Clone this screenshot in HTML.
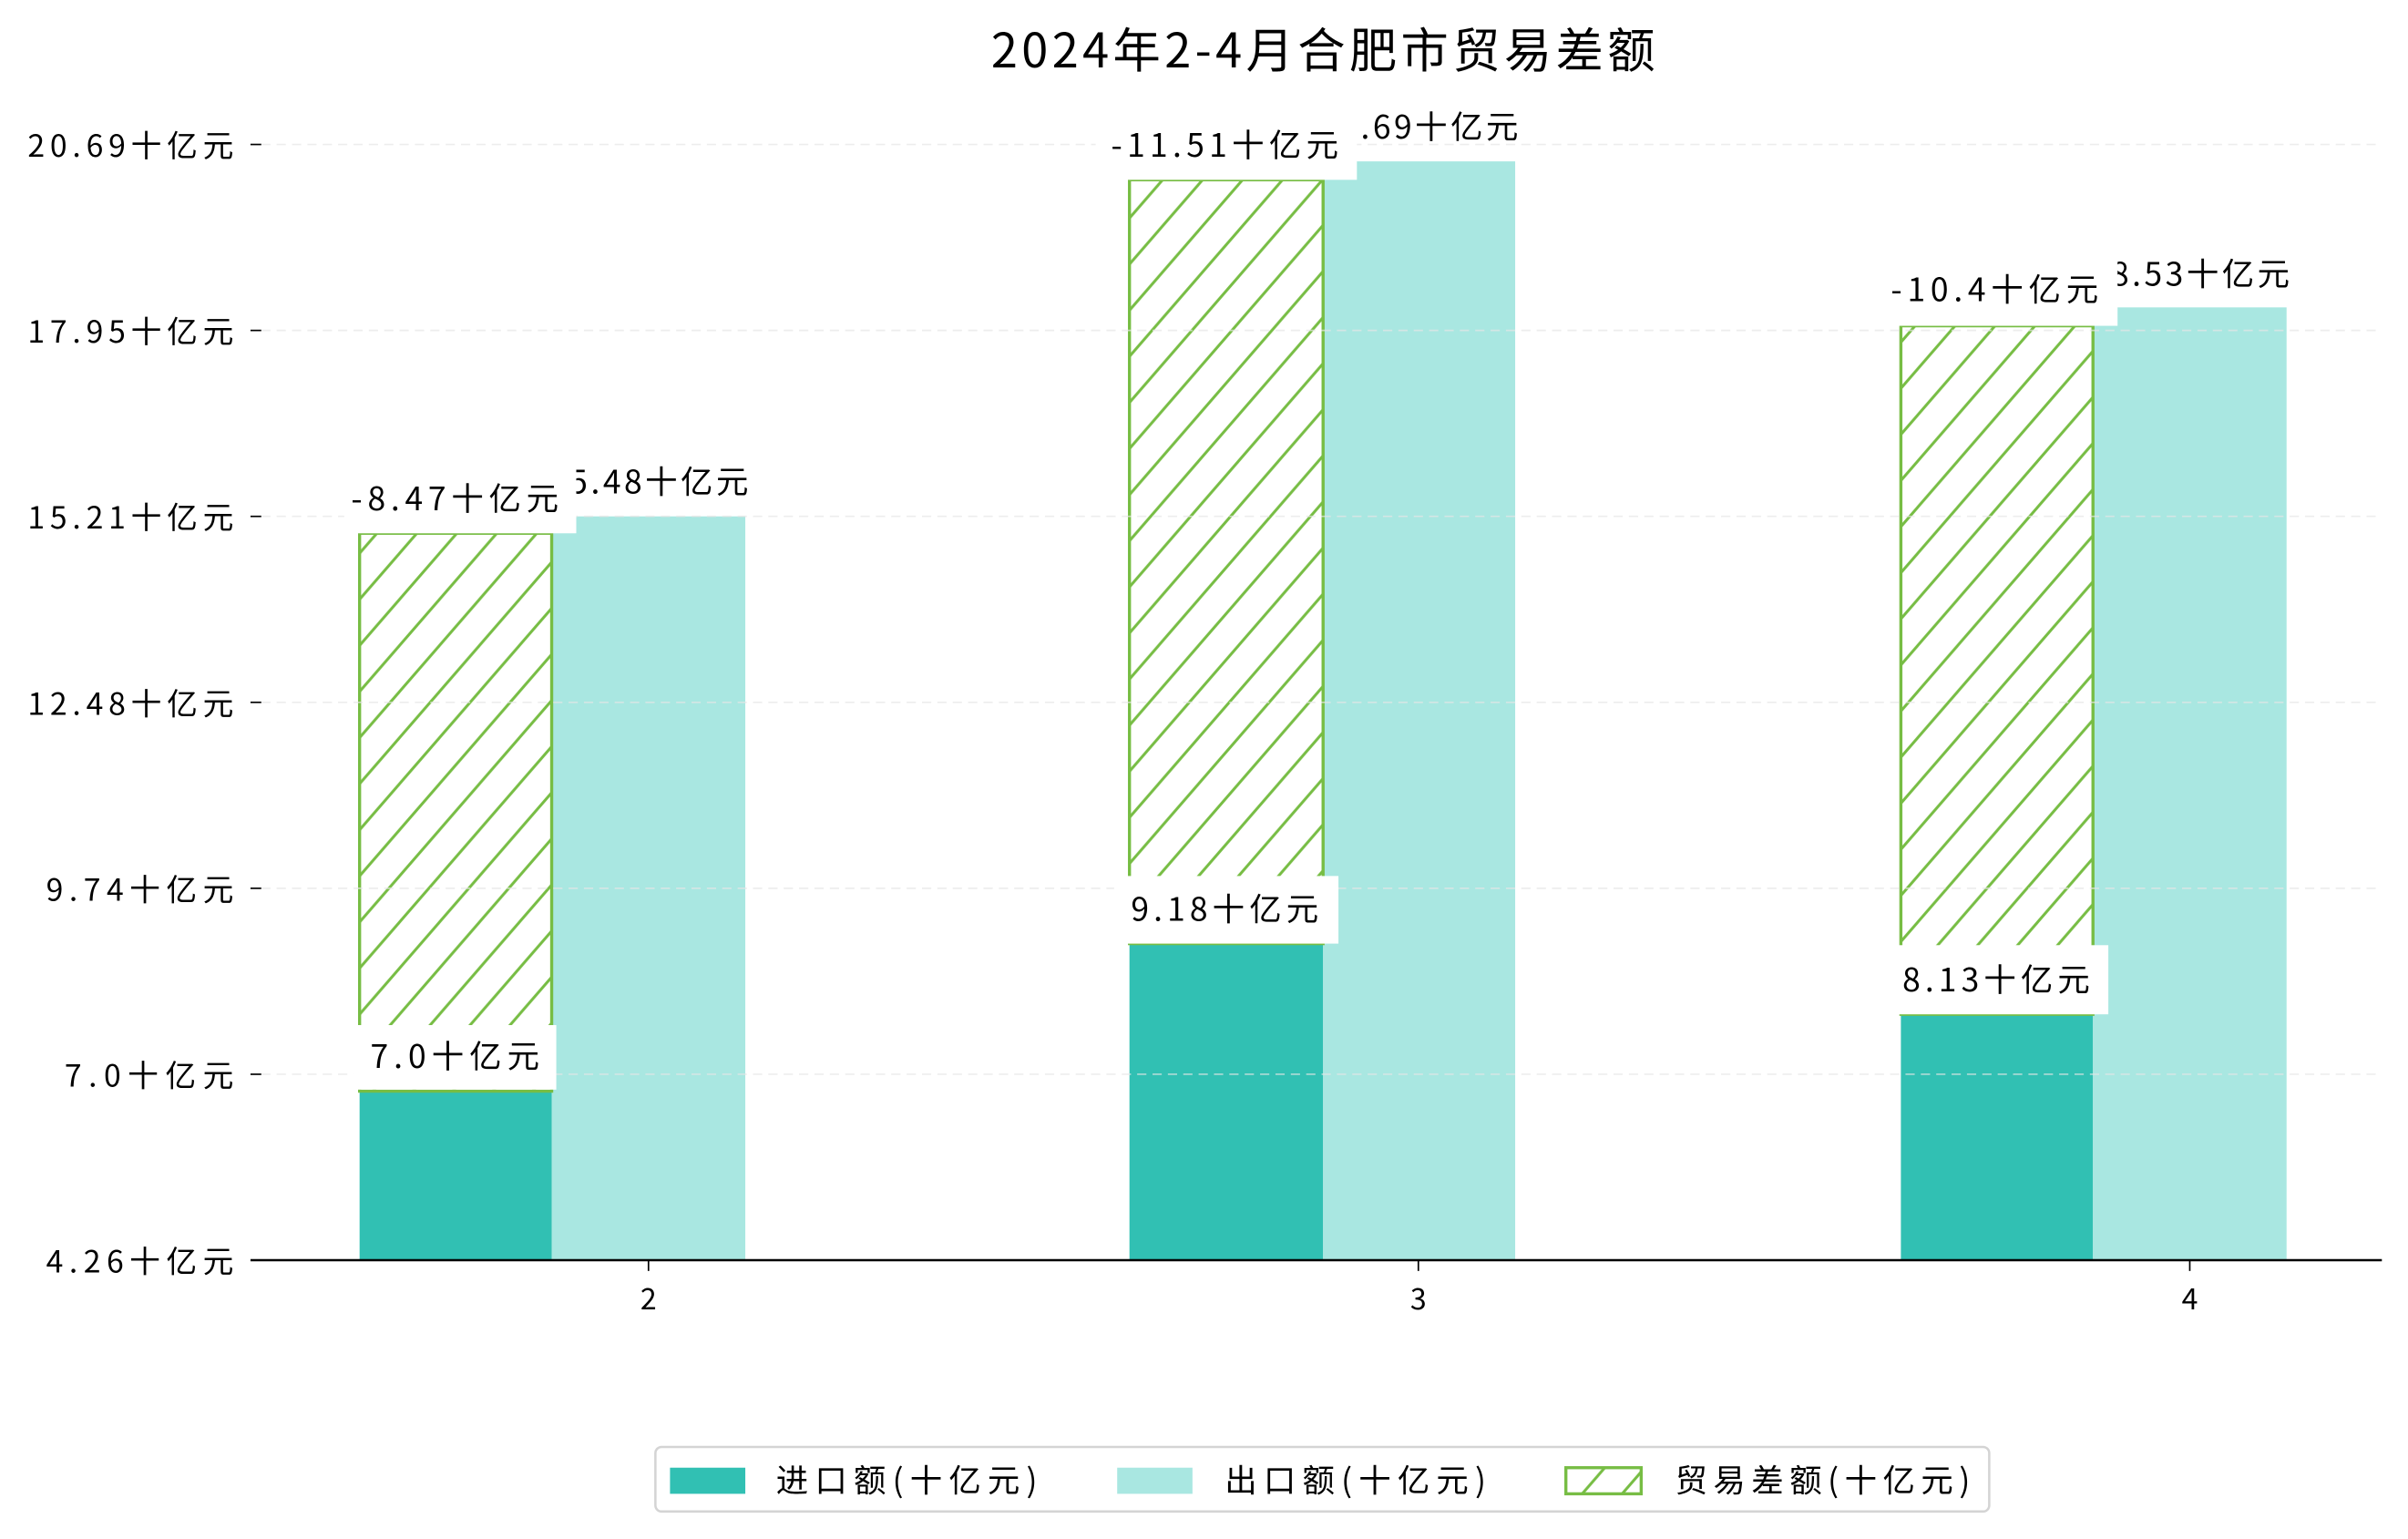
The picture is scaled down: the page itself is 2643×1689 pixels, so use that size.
<!DOCTYPE html>
<html><head><meta charset="utf-8"><style>
html,body{margin:0;padding:0;background:#fff;}
svg{display:block;}
text{font-family:"WenQuanYi Zen Hei","Noto Sans CJK SC",sans-serif;fill:#000;}
</style></head><body>
<svg width="2643" height="1689" viewBox="0 0 1567 1001.4" xmlns="http://www.w3.org/2000/svg">
<defs>
<pattern id="h" patternUnits="userSpaceOnUse" width="26" height="30">
<rect width="26" height="30" fill="#fff"/>
<line x1="-26" y1="60" x2="52" y2="-30" stroke="#77bd44" stroke-width="1.8"/>
<line x1="-52" y1="60" x2="26" y2="-30" stroke="#77bd44" stroke-width="1.8"/>
<line x1="0" y1="60" x2="78" y2="-30" stroke="#77bd44" stroke-width="1.8"/>
</pattern>
</defs>
<text x="861" y="44" font-size="31" text-anchor="middle" textLength="432">2024年2-4月合肥市贸易差额</text>

<!-- bars -->
<rect x="234" y="710" width="125" height="110" fill="#31c0b3"/>
<rect x="359" y="336" width="126" height="484" fill="#a9e7e1"/>
<rect x="234" y="347" width="125" height="363" fill="url(#h)" stroke="#77bd44" stroke-width="2"/>
<rect x="735" y="614" width="126" height="206" fill="#31c0b3"/>
<rect x="861" y="105" width="125" height="715" fill="#a9e7e1"/>
<rect x="735" y="117" width="126" height="497" fill="url(#h)" stroke="#77bd44" stroke-width="2"/>
<rect x="1237" y="660" width="125" height="160" fill="#31c0b3"/>
<rect x="1362" y="200" width="126" height="620" fill="#a9e7e1"/>
<rect x="1237" y="212" width="125" height="448" fill="url(#h)" stroke="#77bd44" stroke-width="2"/>

<!-- grid -->
<g stroke="#e6e6e6" stroke-width="1" stroke-dasharray="6,4" opacity="0.7">
<line x1="170" x2="1550" y1="94" y2="94"/><line x1="170" x2="1550" y1="215" y2="215"/>
<line x1="170" x2="1550" y1="336" y2="336"/><line x1="170" x2="1550" y1="457" y2="457"/>
<line x1="170" x2="1550" y1="578" y2="578"/><line x1="170" x2="1550" y1="699" y2="699"/>
</g>

<!-- labels: export first -->
<text x="422" y="321" font-size="21" text-anchor="middle" textLength="130">15.48十亿元</text>
<text x="923" y="90" font-size="21" text-anchor="middle" textLength="130">19.69十亿元</text>
<text x="1425" y="186" font-size="21" text-anchor="middle" textLength="130">18.53十亿元</text>
<!-- diff labels -->
<rect x="224" y="303" width="151" height="44" fill="#fff"/>
<text x="296" y="332" font-size="21" text-anchor="middle" textLength="135">-8.47十亿元</text>
<rect x="713" y="72" width="170" height="45" fill="#fff"/>
<text x="797" y="102" font-size="21" text-anchor="middle" textLength="148">-11.51十亿元</text>
<rect x="1221" y="167" width="157" height="45" fill="#fff"/>
<text x="1298" y="196" font-size="21" text-anchor="middle" textLength="135">-10.4十亿元</text>
<!-- import labels -->
<rect x="230" y="667" width="132" height="42" fill="#fff"/>
<text x="296" y="695" font-size="21" text-anchor="middle" textLength="110">7.0十亿元</text>
<rect x="725" y="570" width="146" height="44" fill="#fff"/>
<text x="797" y="599" font-size="21" text-anchor="middle" textLength="122">9.18十亿元</text>
<rect x="1227" y="615" width="145" height="45" fill="#fff"/>
<text x="1299" y="645" font-size="21" text-anchor="middle" textLength="122">8.13十亿元</text>

<!-- axes -->
<line x1="163" x2="1550" y1="820" y2="820" stroke="#000" stroke-width="1.5"/>
<g stroke="#000" stroke-width="1">
<line x1="163" x2="170" y1="94" y2="94"/><line x1="163" x2="170" y1="215" y2="215"/>
<line x1="163" x2="170" y1="336" y2="336"/><line x1="163" x2="170" y1="457" y2="457"/>
<line x1="163" x2="170" y1="578" y2="578"/><line x1="163" x2="170" y1="699" y2="699"/>
<line x1="422" x2="422" y1="820" y2="827"/><line x1="923" x2="923" y1="820" y2="827"/><line x1="1425" x2="1425" y1="820" y2="827"/>
</g>
<g font-size="20" text-anchor="end">
<text x="152" y="102" textLength="134">20.69十亿元</text>
<text x="152" y="223" textLength="134">17.95十亿元</text>
<text x="152" y="344" textLength="134">15.21十亿元</text>
<text x="152" y="465" textLength="134">12.48十亿元</text>
<text x="152" y="586" textLength="122">9.74十亿元</text>
<text x="152" y="707" textLength="110">7.0十亿元</text>
<text x="152" y="828" textLength="122">4.26十亿元</text>
</g>
<g font-size="19" text-anchor="middle">
<text x="422" y="852">2</text><text x="923" y="852">3</text><text x="1425" y="852">4</text>
</g>

<!-- legend -->
<rect x="426.5" y="941.5" width="868" height="42" rx="4" fill="#fff" stroke="#d4d4d4" stroke-width="1.5"/>
<rect x="436" y="955" width="49" height="17" fill="#31c0b3"/>
<text x="505" y="971" font-size="21" textLength="170">进口额(十亿元)</text>
<rect x="727" y="955" width="49" height="17" fill="#a9e7e1"/>
<text x="797" y="971" font-size="21" textLength="170">出口额(十亿元)</text>
<rect x="1019" y="955" width="49" height="17" fill="url(#h)" stroke="#77bd44" stroke-width="2"/>
<text x="1090" y="971" font-size="21" textLength="192">贸易差额(十亿元)</text>
</svg>
</body></html>
